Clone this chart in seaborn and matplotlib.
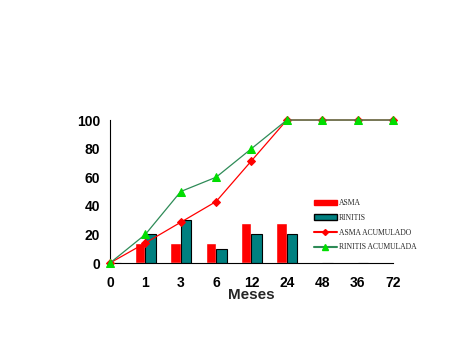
import pandas as pd
import numpy as np
import seaborn as sns
import matplotlib.pyplot as plt
from matplotlib.patches import Patch
from matplotlib.lines import Line2D

meses = ['0', '1', '3', '6', '12', '24', '48', '36', '72']
asma = [0, 14, 14, 14, 28, 28, 0, 0, 0]
rinitis = [0, 20, 30, 10, 20, 20, 0, 0, 0]
asma_acum = [0, 14, 28.5, 43, 71.5, 100, 100, 100, 100]
rinitis_acum = [0, 20, 50, 60, 80, 100, 100, 100, 100]

sns.set_style("white")
plt.rcParams['font.family'] = ['Liberation Sans', 'DejaVu Sans']

df_bar = pd.DataFrame({
    'mes': meses * 2,
    'valor': asma + rinitis,
    'serie': ['ASMA'] * len(meses) + ['RINITIS'] * len(meses),
})
pos = np.arange(len(meses))

fig = plt.figure(figsize=(4.77, 3.59), dpi=100)
ax = fig.add_axes([0.2306, 0.2674, 0.5933, 0.3983])

sns.barplot(data=df_bar, x='mes', y='valor', hue='serie', order=meses,
            palette={'ASMA': '#ff0000', 'RINITIS': '#008080'}, width=0.6,
            saturation=1, legend=False, ax=ax)
for bar in ax.patches[len(meses):]:
    bar.set_edgecolor('black')
    bar.set_linewidth(0.8)

sns.lineplot(x=pos, y=asma_acum, color='#ff0000', marker='D', markersize=4,
             markeredgecolor='#ff0000', linewidth=0.9, ax=ax, clip_on=False, zorder=5)
sns.lineplot(x=pos, y=rinitis_acum, color='#2e8b57', marker='^', markersize=6,
             markerfacecolor='#00dd00', markeredgecolor='#00dd00', linewidth=0.9,
             ax=ax, clip_on=False, zorder=6)

ax.set_xlim(0, len(meses) - 1)
ax.set_ylim(0, 100)
ax.set_yticks([0, 20, 40, 60, 80, 100])
ax.set_xticks(pos)
ax.set_xticklabels(meses)
ax.tick_params(axis='both', labelsize=10, length=4, direction='out', width=0.8,
               colors='black')
ax.tick_params(axis='x', pad=5)
ax.tick_params(axis='y', pad=3)
for lab in ax.get_xticklabels() + ax.get_yticklabels():
    lab.set_fontweight('bold')
ax.set_xlabel('Meses', fontsize=11, fontweight='bold', labelpad=-1)
ax.set_ylabel('')
for s in ['top', 'right']:
    ax.spines[s].set_visible(False)
for s in ['left', 'bottom']:
    ax.spines[s].set_color('black')
    ax.spines[s].set_linewidth(0.8)

handles = [
    Patch(facecolor='#ff0000', edgecolor='#ff0000'),
    Patch(facecolor='#008080', edgecolor='black'),
    Line2D([], [], color='#ff0000', marker='D', markersize=3),
    Line2D([], [], color='#2e8b57', marker='^', markersize=4,
           markerfacecolor='#00dd00', markeredgecolor='#00dd00'),
]
labels = ['ASMA', 'RINITIS', 'ASMA ACUMULADO', 'RINITIS ACUMULADA']
ax.legend(handles, labels, loc='upper left', bbox_to_anchor=(0.71, 0.47),
          frameon=False, prop={'family': 'Liberation Serif', 'size': 5.5},
          handlelength=3, labelspacing=0.9, handletextpad=0.3, borderaxespad=0)

fig.savefig('out.png', dpi=100)
